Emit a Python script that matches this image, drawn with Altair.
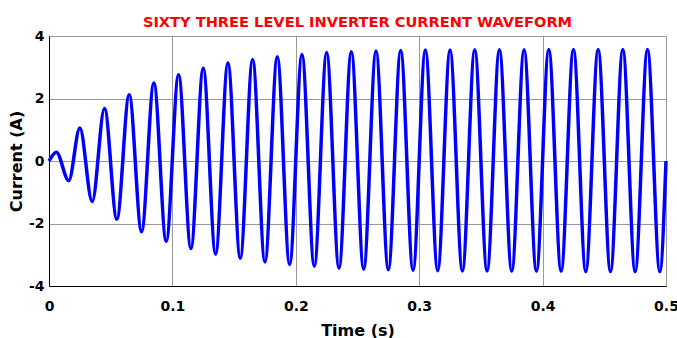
import altair as alt
import pandas as pd

# Extrema of the current waveform (time in s, current in A)
times = [0.0, 0.006, 0.016, 0.025, 0.035, 0.045, 0.055, 0.065, 0.075, 0.085, 0.095,
         0.105, 0.115, 0.125, 0.135, 0.145, 0.155, 0.165, 0.175, 0.185, 0.195,
         0.205, 0.215, 0.225, 0.235, 0.245, 0.255, 0.265, 0.275, 0.285, 0.295,
         0.305, 0.315, 0.325, 0.335, 0.345, 0.355, 0.365, 0.375, 0.385, 0.395,
         0.405, 0.415, 0.425, 0.435, 0.445, 0.455, 0.465, 0.475, 0.485, 0.495, 0.5]
current = [0.0, 0.28, -0.63, 1.06, -1.30, 1.68, -1.86, 2.12, -2.26, 2.50, -2.57,
           2.76, -2.80, 2.97, -2.98, 3.14, -3.11, 3.25, -3.23, 3.34, -3.31,
           3.41, -3.37, 3.47, -3.43, 3.50, -3.46, 3.52, -3.48, 3.54, -3.50,
           3.55, -3.51, 3.55, -3.52, 3.56, -3.52, 3.56, -3.53, 3.56, -3.53,
           3.57, -3.53, 3.57, -3.54, 3.57, -3.54, 3.57, -3.54, 3.57, -3.54, 0.0]

x_ticks = [0, 0.1, 0.2, 0.3, 0.4, 0.5]
y_ticks = [-4, -2, 0, 2, 4]

df = pd.DataFrame({"t": times, "i": current})

FONT = "DejaVu Sans"

chart = alt.Chart(df).mark_line(
    color="#0000FF", strokeWidth=3.5, interpolate="monotone"
).encode(
    x=alt.X("t:Q",
            scale=alt.Scale(domain=[0, 0.5], nice=False, zero=False),
            axis=alt.Axis(title="Time (s)", values=x_ticks,
                          labelExpr="'' + datum.value",
                          ticks=False, labelPadding=13, titlePadding=9,
                          labelFontSize=14, labelFontWeight="bold", labelFont=FONT,
                          titleFontSize=16, titleFontWeight="bold", titleFont=FONT,
                          labelColor="black", titleColor="black",
                          domainColor="black", gridColor="#999999", gridWidth=1,
                          labelFlush=False)),
    y=alt.Y("i:Q",
            scale=alt.Scale(domain=[-4, 4], nice=False, zero=False),
            axis=alt.Axis(title="Current (A)", values=y_ticks,
                          labelExpr="'' + datum.value",
                          ticks=False, labelPadding=5, titlePadding=4,
                          labelFontSize=14, labelFontWeight="bold", labelFont=FONT,
                          titleFontSize=16, titleFontWeight="bold", titleFont=FONT,
                          labelColor="black", titleColor="black",
                          domainColor="black", gridColor="#999999", gridWidth=1,
                          labelFlush=False)),
).properties(
    width=617,
    height=250,
    title=alt.TitleParams(
        "SIXTY THREE LEVEL INVERTER CURRENT WAVEFORM",
        color="#FF0000", fontSize=14.6, fontWeight="bold", font=FONT,
        anchor="middle", offset=8, dy=9,
    ),
    autosize=alt.AutoSizeParams(type="none"),
    padding={"left": 49, "top": 36, "right": 11, "bottom": 52},
).configure_view(
    stroke="black", strokeWidth=1
).configure(background="white")

chart.save("out.html", embed_options={"renderer": "svg", "actions": False})
